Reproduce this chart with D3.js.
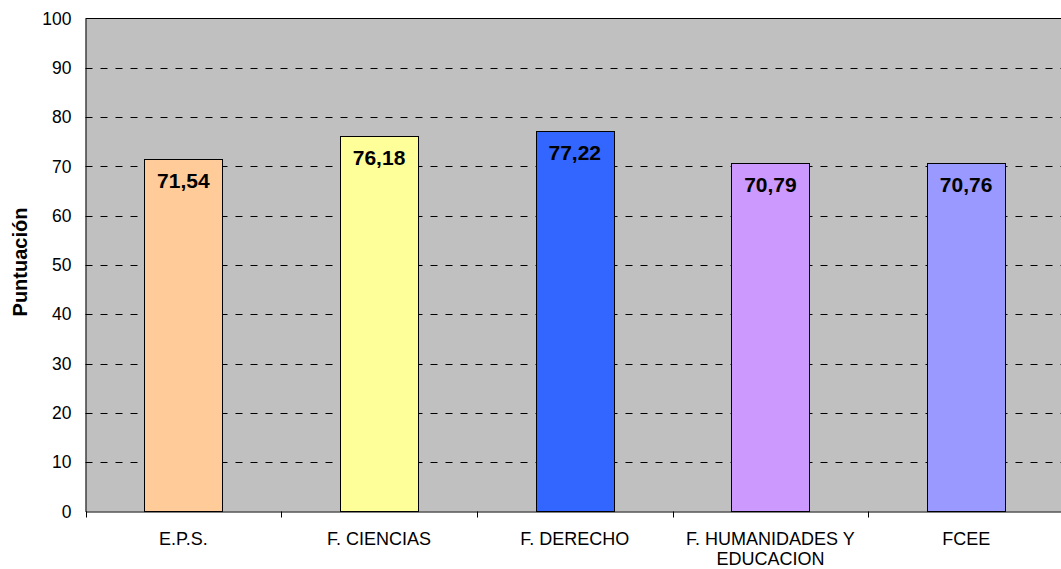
<!DOCTYPE html>
<html>
<head>
<meta charset="utf-8">
<script src="https://cdn.jsdelivr.net/npm/d3@7"></script>
<style>
  body { margin: 0; background: #fff; }
  text { font-family: Arial, "Liberation Sans", sans-serif; }
</style>
</head>
<body>
<div class="chart"></div>
<script>
const CATEGORIES = ['E.P.S.', 'F. CIENCIAS', 'F. DERECHO', 'F. HUMANIDADES Y|EDUCACION', 'FCEE'];
const VALUES = [71.54, 76.18, 77.22, 70.79, 70.76];
const LABELS = ['71,54', '76,18', '77,22', '70,79', '70,76'];
const COLORS = ['#FFCC99', '#FFFF99', '#3366FF', '#CC99FF', '#9999FF'];
const Y_TICKS = [0, 10, 20, 30, 40, 50, 60, 70, 80, 90, 100];

// plot area (the right side runs past the window, like the original)
var margin = {top: 18, left: 85.5},
    W = 1061, H = 569,
    plotRight = 1064,
    plotBottom = 511.5;

var svg = d3.select('.chart')
            .append('svg')
            .attr('width', W)
            .attr('height', H);

var x = d3.scaleBand()
          .domain(CATEGORIES)
          .range([margin.left, plotRight])
          .padding(0);

var y = d3.scaleLinear()
          .domain([0, 100])
          .range([plotBottom, margin.top + 0.5]);

// grey background
svg.append('rect')
   .attr('x', margin.left)
   .attr('y', y(100))
   .attr('width', plotRight - margin.left)
   .attr('height', plotBottom - y(100))
   .attr('fill', '#C0C0C0');

// dashed gridlines
svg.append('g')
   .selectAll('line')
   .data(Y_TICKS.filter(d => d > 0 && d < 100))
   .enter()
   .append('line')
   .attr('x1', margin.left)
   .attr('x2', plotRight)
   .attr('y1', d => Math.round(y(d)) + 0.5)
   .attr('y2', d => Math.round(y(d)) + 0.5)
   .attr('stroke', '#000')
   .attr('stroke-dasharray', '7,8');

// top border
svg.append('line')
   .attr('x1', margin.left).attr('x2', plotRight)
   .attr('y1', y(100)).attr('y2', y(100))
   .attr('stroke', '#000');

// bars
var barW = x.bandwidth() * 0.4;
svg.append('g')
   .selectAll('rect')
   .data(VALUES)
   .enter()
   .append('rect')
   .attr('x', (d, i) => Math.round(x(CATEGORIES[i]) + (x.bandwidth() - barW) / 2) + 0.5)
   .attr('y', d => Math.round(y(d)) + 0.5)
   .attr('width', Math.round(barW))
   .attr('height', d => plotBottom - Math.round(y(d)) - 0.5)
   .attr('fill', (d, i) => COLORS[i])
   .attr('stroke', '#000')
   .attr('stroke-width', 1);

// value labels
svg.append('g')
   .selectAll('text')
   .data(VALUES)
   .enter()
   .append('text')
   .attr('x', (d, i) => x(CATEGORIES[i]) + x.bandwidth() / 2)
   .attr('y', d => y(d) + 29)
   .attr('text-anchor', 'middle')
   .style('font-size', '21px')
   .style('font-weight', 'bold')
   .text((d, i) => LABELS[i]);

// Y axis
var yAxis = svg.append('g')
   .attr('transform', 'translate(' + margin.left + ',0)')
   .call(d3.axisLeft(y).tickValues(Y_TICKS).tickSize(0).tickPadding(14));
yAxis.select('.domain').attr('stroke', '#000');
yAxis.selectAll('text')
     .style('font-size', '17.5px')
     .attr('fill', '#000')
     .attr('font-family', 'Arial, "Liberation Sans", sans-serif');

// X axis
var xAxis = svg.append('g')
   .attr('transform', 'translate(0,' + plotBottom + ')')
   .call(d3.axisBottom(x).tickSize(0).tickFormat(''));
xAxis.select('.domain').attr('stroke', '#000');

// tick marks at category boundaries
svg.append('g')
   .selectAll('line')
   .data(CATEGORIES)
   .enter()
   .append('line')
   .attr('x1', d => Math.round(x(d)) + 0.5)
   .attr('x2', d => Math.round(x(d)) + 0.5)
   .attr('y1', plotBottom)
   .attr('y2', plotBottom + 6)
   .attr('stroke', '#000');

// category labels (may wrap onto two lines)
var catLabels = svg.append('g')
   .selectAll('text')
   .data(CATEGORIES)
   .enter()
   .append('text')
   .attr('x', d => x(d) + x.bandwidth() / 2)
   .attr('y', 545)
   .attr('text-anchor', 'middle')
   .style('font-size', '18px');
catLabels.each(function(d) {
  var parts = d.split('|');
  var t = d3.select(this);
  parts.forEach((p, i) => {
    t.append('tspan')
     .attr('x', t.attr('x'))
     .attr('dy', i === 0 ? 0 : 20)
     .text(p);
  });
});

// Y axis title
svg.append('text')
   .attr('transform', 'translate(27,' + 262 + ') rotate(-90)')
   .attr('text-anchor', 'middle')
   .style('font-size', '20px')
   .style('font-weight', 'bold')
   .text('Puntuación');
</script>
</body>
</html>
